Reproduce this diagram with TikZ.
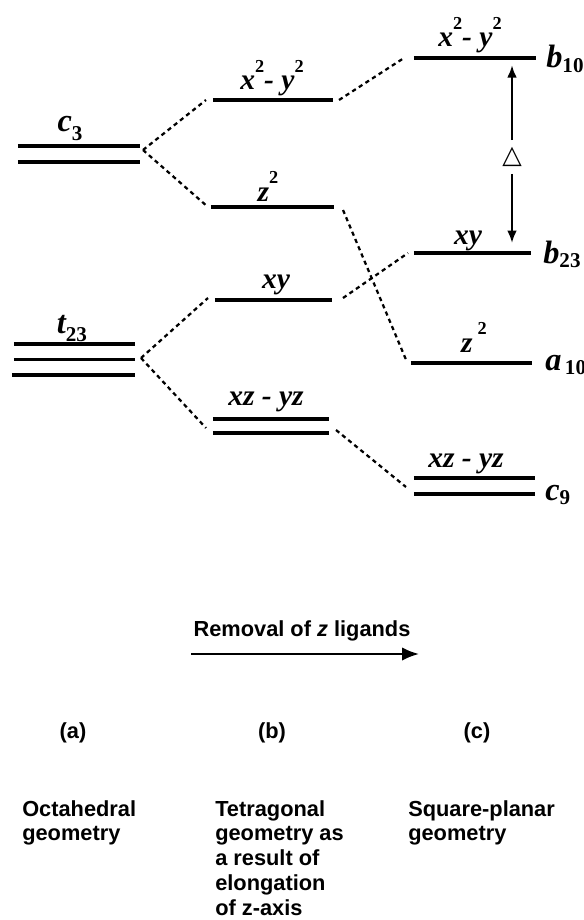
\documentclass[tikz,border=0pt]{standalone}
\usepackage{fontspec}
\setmainfont{Liberation Serif}
\setsansfont{Liberation Sans}
\newfontfamily\dejavu{DejaVu Sans}
\usepackage{tikz}
\usetikzlibrary{
    arrows.meta,
    positioning,
    calc
}
\newcommand{\orb}[2]{{\fontsize{23}{23}\selectfont\bfseries\itshape #1}\raisebox{-0.3em}{\fontsize{15}{15}\selectfont\bfseries\upshape #2}}
\newcommand{\sqd}{\raisebox{0.6em}{\fontsize{13}{13}\selectfont\bfseries\upshape 2}}
\tikzstyle{lvl} = [
    minimum height=0pt,
    inner sep=0pt,
    outer sep=0pt
]
\tikzstyle{bar} = [line width=2.5pt]
\tikzstyle{link} = [
    line width=1.6pt,
    dash pattern=on 3pt off 2.6pt
]
\tikzstyle{orbtxt} = [
    anchor=base,
    inner sep=0pt,
    font=\fontsize{21}{21}\selectfont\bfseries\itshape
]
\tikzstyle{symtxt} = [anchor=base west, inner sep=0pt]
\tikzstyle{gap} = [
    -{Latex[length=9pt,width=7pt]},
    line width=2pt
]
\tikzstyle{push} = [
    -{Latex[length=12pt,width=9.5pt]},
    line width=1.6pt
]
\tikzstyle{capt} = [
    inner sep=0pt,
    font=\fontsize{15.5}{17.7}\selectfont\sffamily\bfseries
]

\begin{document}
\begin{tikzpicture}[x=0.025cm, y=-0.025cm]
        \useasboundingbox (0,0) rectangle (584,920);

        % Octahedral levels
        \node[lvl, minimum width=3.05cm, minimum height=0.4cm] (c3) at (79,154) {};
        \node[lvl, minimum width=3.025cm, minimum height=0.775cm] (t23) at (74.5,359.5) {};
        \draw[bar] (c3.north west) -- (c3.north east);
        \draw[bar] (c3.south west) -- (c3.south east);
        \draw[bar] (t23.north west) -- (t23.north east);
        \draw[bar] (t23.west) -- (t23.east);
        \draw[bar] ($(t23.south west)+(-2,0)$) -- (t23.south east);
        \node[orbtxt] (c3t) at ($(c3)+(-9,-22)$) {\orb{c}{3}};
        \node[orbtxt] (t23t) at ($(t23)+(-2.5,-26.5)$) {\orb{t}{23}};

        % Tetragonal levels
        \node[lvl, minimum width=3.0cm] (bx2) at (273,100) {};
        \node[lvl, minimum width=3.075cm] (bz2) at (272.5,207) {};
        \node[lvl, minimum width=2.925cm] (bxy) at (273.5,300) {};
        \node[lvl, minimum width=2.9cm, minimum height=0.35cm] (bxz) at (271,426) {};
        \draw[bar] (bx2.west) -- (bx2.east);
        \draw[bar] (bz2.west) -- (bz2.east);
        \draw[bar] (bxy.west) -- (bxy.east);
        \draw[bar] (bxz.north west) -- (bxz.north east);
        \draw[bar] (bxz.south west) -- (bxz.south east);
        \node[orbtxt] (bx2t) at ($(bx2)+(-1,-10)$) {x\sqd- y\sqd};
        \node[orbtxt] (bz2t) at ($(bz2)+(-4.5,-6)$) {z\sqd};
        \node[orbtxt] (bxyt) at ($(bxy)+(2.5,-12)$) {xy};
        \node[orbtxt] (bxzt) at ($(bxz)+(-5,-21)$) {xz - yz};

        % Square-planar levels
        \node[lvl, minimum width=3.05cm] (cx2) at (475,58) {};
        \node[lvl, minimum width=2.925cm] (cxy) at (472.5,253) {};
        \node[lvl, minimum width=3.025cm] (cz2) at (471.5,363) {};
        \node[lvl, minimum width=3.025cm, minimum height=0.4cm] (cxz) at (474.5,486) {};
        \draw[bar] (cx2.west) -- (cx2.east);
        \draw[bar, line width=3.2pt] (cxy.west) -- (cxy.east);
        \draw[bar] (cz2.west) -- (cz2.east);
        \draw[bar] (cxz.north west) -- (cxz.north east);
        \draw[bar] (cxz.south west) -- (cxz.south east);
        \node[orbtxt] (cx2t) at ($(cx2)+(-5,-11)$) {x\sqd- y\sqd};
        \node[orbtxt] (cxyt) at ($(cxy)+(-4.5,-9)$) {xy};
        \node[orbtxt] (cz2t) at ($(cz2)+(2.5,-11)$) {z\,\sqd};
        \node[orbtxt] (cxzt) at ($(cxz)+(-8.5,-19)$) {xz - yz};
        \node[symtxt] (b10) at ($(cx2.east)+(10,10)$) {\orb{b}{10}};
        \node[symtxt] (b23) at ($(cxy.east)+(12,10)$) {\orb{b}{23}};
        \node[symtxt] (a10) at ($(cz2.east)+(13,7)$) {\orb{a}{\,10}};
        \node[symtxt] (c9) at ($(cxz.east)+(10,14)$) {\orb{c}{9}};

        % Correlation lines
        \draw[link] ($(c3.east)+(3,-4)$) -- ($(bx2.west)+(-7,0)$);
        \draw[link] ($(c3.east)+(3,-4)$) -- ($(bz2.west)+(-3,0)$);
        \draw[link] ($(t23.east)+(6,-1.5)$) -- ($(bxy.west)+(-7,-2)$);
        \draw[link] ($(t23.east)+(6,-1.5)$) -- ($(bxz.west)+(-7,2)$);
        \draw[link] ($(bx2.east)+(6,0)$) -- ($(cx2.west)+(-10,0)$);
        \draw[link] ($(bz2.east)+(9,3)$) -- ($(cz2.west)+(-4,-1)$);
        \draw[link] ($(bxy.east)+(11,-2)$) -- ($(cxy.west)+(-6,0)$);
        \draw[link] ($(bxz.east)+(7,4)$) -- ($(cxz.west)+(-8,1)$);

        % Splitting
        \node[inner sep=0pt, minimum height=23.5pt, font=\dejavu\bfseries\fontsize{18}{18}\selectfont] (dlt) at (512,157) {△};
        \draw[gap, shorten >=5pt] (dlt.north) -- (dlt.north |- cx2);
        \draw[gap, shorten >=7pt] (dlt.south) -- (dlt.south |- cxy);

        % Captions
        \node[capt, anchor=base] (rmv) at (302,636) {Removal of \textit{z} ligands};
        \coordinate (ra) at (191,654);
        \coordinate (rb) at (419,654);
        \draw[push] (ra) -- (rb);
        \node[capt, anchor=base] (pa) at (73,738) {(a)};
        \node[capt, anchor=base] (pb) at (272,738) {(b)};
        \node[capt, anchor=base] (pc) at (477,738) {(c)};
        \node[capt, anchor=north west, align=left] (geoa) at (22,800) {Octahedral\\geometry};
        \node[capt, anchor=north west, align=left] (geob) at (215,800) {Tetragonal\\geometry as\\a result of\\elongation\\of z-axis};
        \node[capt, anchor=north west, align=left] (geoc) at (408,800) {Square-planar\\geometry};
    \end{tikzpicture}
\end{document}
